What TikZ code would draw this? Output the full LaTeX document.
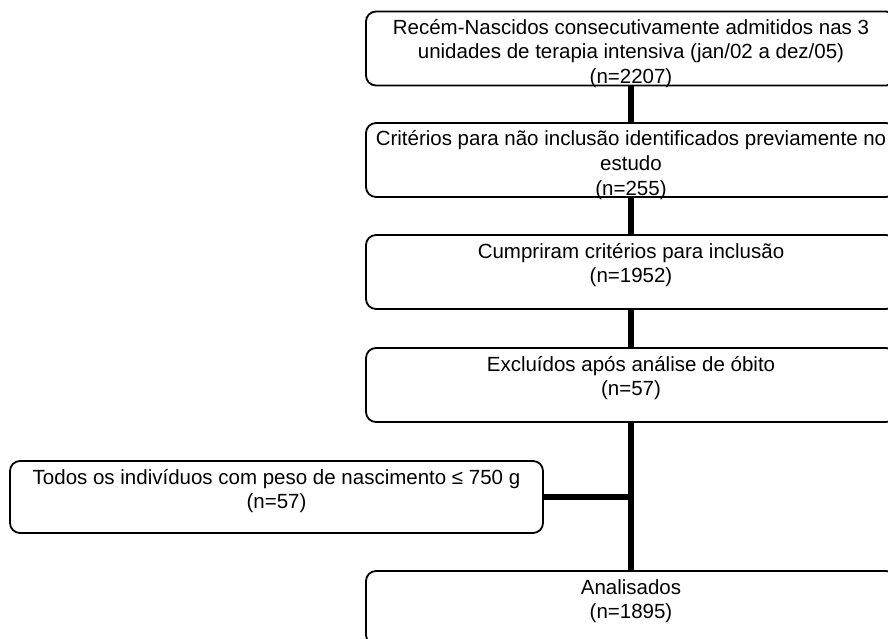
\documentclass[tikz,border=0pt]{standalone}
\usepackage{fontspec}
\setmainfont{Liberation Sans}
\newcommand\lnstrut{\rule{0pt}{20pt}}
\begin{document}
\begin{tikzpicture}[x=1pt,y=-1pt,
  box/.style={draw, line width=1.8pt, rounded corners=10pt, minimum width=530pt,
    minimum height=74pt, inner sep=0pt, outer sep=0pt},
  txt/.style={anchor=north, inner sep=0pt, outer sep=0pt, align=center,
    font=\fontsize{20.5}{24.5}\selectfont},
  link/.style={line width=5.5pt}]
\useasboundingbox (0,0) rectangle (888,639);
\clip (0,0) rectangle (888,639);
% boxes
\node[box] (b1) at (631,48.5) {};
\node[box] (b2) at (631,160) {};
\node[box] (b3) at (631,272) {};
\node[box] (b4) at (631,385) {};
\node[box] (b5) at (631,608) {};
\node[box, minimum width=533pt, minimum height=72pt] (bl) at (276.5,497) {};
% texts
\node[txt] (t1) at ([yshift=-3pt]b1.north) {\lnstrut Recém-Nascidos consecutivamente admitidos nas 3\\ \lnstrut unidades de terapia intensiva (jan/02 a dez/05)\\ \lnstrut (n=2207)};
\node[txt] (t2) at ([yshift=-3pt]b2.north) {\lnstrut Critérios para não inclusão identificados previamente no\\ \lnstrut estudo\\ \lnstrut (n=255)};
\node[txt] (t3) at ([yshift=-3pt]b3.north) {\lnstrut Cumpriram critérios para inclusão\\ \lnstrut (n=1952)};
\node[txt] (t4) at ([yshift=-3pt]b4.north) {\lnstrut Excluídos após análise de óbito\\ \lnstrut (n=57)};
\node[txt] (t5) at ([yshift=-3pt]b5.north) {\lnstrut Analisados\\ \lnstrut (n=1895)};
\node[txt] (tl) at ([yshift=-3pt]bl.north) {\lnstrut Todos os indivíduos com peso de nascimento ≤ 750 g\\ \lnstrut (n=57)};
% connectors
\draw[link] (b1.south) -- (b2.north);
\draw[link] (b2.south) -- (b3.north);
\draw[link] (b3.south) -- (b4.north);
\draw[link] (b4.south) -- (b5.north);
\draw[link] (bl.east) -- (bl.east -| b4.south);
\end{tikzpicture}
\end{document}
